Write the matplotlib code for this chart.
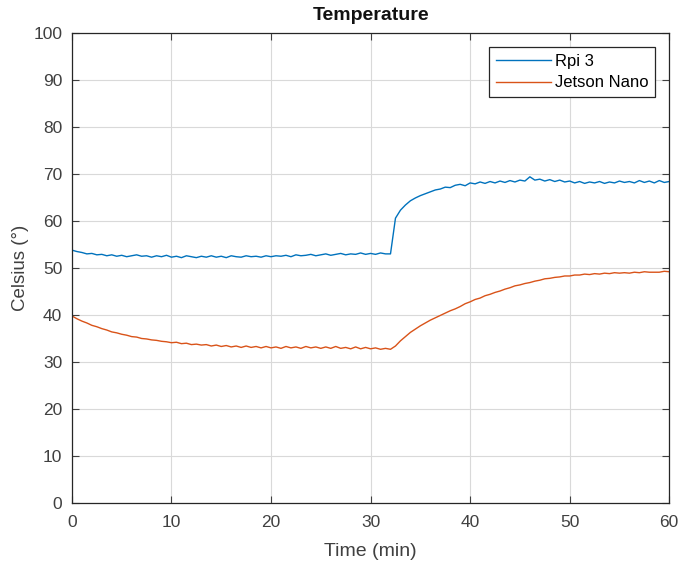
import numpy as np
import matplotlib.pyplot as plt

# ==========================================================
# Data (0.5 min sampling)
# ==========================================================

time_min = np.arange(0, 60.5, 0.5)

rpi3 = [
    53.8, 53.5, 53.3, 53.0, 53.1, 52.8, 52.9, 52.6, 52.8, 52.5,
    52.7, 52.4, 52.6, 52.8, 52.5, 52.6, 52.3, 52.6, 52.4, 52.7,
    52.3, 52.5, 52.2, 52.6, 52.4, 52.2, 52.5, 52.3, 52.6, 52.3,
    52.5, 52.2, 52.6, 52.4, 52.3, 52.6, 52.4, 52.5, 52.3, 52.6,
    52.4, 52.6, 52.5, 52.7, 52.4, 52.8, 52.6, 52.7, 52.9, 52.6,
    52.8, 53.0, 52.7, 52.9, 53.1, 52.8, 53.0, 52.9, 53.2, 52.9,
    53.1, 52.9, 53.2, 53.0, 53.0, 60.6, 62.3, 63.4, 64.3, 64.9,
    65.4, 65.8, 66.2, 66.6, 66.8, 67.2, 67.1, 67.6, 67.8, 67.5,
    68.1, 67.9, 68.3, 68.0, 68.4, 68.1, 68.5, 68.2, 68.6, 68.3,
    68.7, 68.5, 69.4, 68.7, 68.9, 68.5, 68.8, 68.4, 68.7, 68.3,
    68.5, 68.1, 68.4, 68.0, 68.3, 68.1, 68.4, 68.0, 68.3, 68.1,
    68.5, 68.2, 68.4, 68.1, 68.6, 68.2, 68.5, 68.1, 68.6, 68.2,
    68.4,
]

jetson_nano = [
    39.8, 39.2, 38.7, 38.3, 37.8, 37.5, 37.1, 36.8, 36.4, 36.2,
    35.9, 35.7, 35.4, 35.3, 35.0, 34.9, 34.7, 34.6, 34.4, 34.3,
    34.1, 34.2, 33.9, 34.0, 33.7, 33.8, 33.6, 33.7, 33.4, 33.6,
    33.3, 33.5, 33.2, 33.4, 33.1, 33.4, 33.1, 33.3, 33.0, 33.3,
    33.0, 33.2, 32.9, 33.3, 33.0, 33.2, 32.9, 33.3, 33.0, 33.2,
    32.9, 33.2, 32.9, 33.3, 32.9, 33.1, 32.8, 33.2, 32.8, 33.1,
    32.8, 33.0, 32.7, 32.9, 32.7, 33.4, 34.5, 35.4, 36.3, 37.0,
    37.7, 38.3, 38.9, 39.4, 39.9, 40.4, 40.9, 41.3, 41.8, 42.4,
    42.8, 43.3, 43.6, 44.1, 44.4, 44.8, 45.1, 45.5, 45.8, 46.2,
    46.4, 46.7, 46.9, 47.2, 47.4, 47.7, 47.8, 48.0, 48.1, 48.3,
    48.3, 48.5, 48.5, 48.7, 48.6, 48.8, 48.7, 48.9, 48.8, 49.0,
    48.9, 49.0, 48.9, 49.1, 49.0, 49.2, 49.1, 49.1, 49.1, 49.3,
    49.2,
]

x_ticks = [0, 10, 20, 30, 40, 50, 60]
y_ticks = [0, 10, 20, 30, 40, 50, 60, 70, 80, 90, 100]

# ==========================================================
# Figure
# ==========================================================

plt.rcParams["font.family"] = ["Liberation Sans", "DejaVu Sans"]

fig = plt.figure(figsize=(6.85, 5.63), dpi=100)
ax = fig.add_axes([0.105, 0.1066, 0.872, 0.8348])

ax.plot(time_min, rpi3, color="#0072BD", linewidth=1.0, label="Rpi 3")
ax.plot(time_min, jetson_nano, color="#D95319", linewidth=1.0, label="Jetson Nano")

ax.set_xlim(0, 60)
ax.set_ylim(0, 100)
ax.set_xticks(x_ticks)
ax.set_yticks(y_ticks)

ax.tick_params(
    direction="in",
    length=5,
    width=0.8,
    top=True,
    right=True,
    labelsize=12.5,
    colors="#404040",
)
ax.tick_params(axis="x", pad=9)
ax.tick_params(axis="y", pad=7)

for spine in ax.spines.values():
    spine.set_color("#262626")
    spine.set_linewidth(0.9)

ax.grid(True, color="#d9d9d9", linewidth=0.8)
ax.set_axisbelow(True)

ax.set_title("Temperature", fontsize=14, fontweight="bold", color="#111111", pad=9)
ax.set_xlabel("Time (min)", fontsize=14, color="#404040", labelpad=9)
ax.set_ylabel("Celsius (°)", fontsize=13.5, color="#404040", labelpad=3)

leg = ax.legend(
    loc="upper right",
    fontsize=12,
    fancybox=False,
    edgecolor="#262626",
    framealpha=1,
    handlelength=3.3,
    handletextpad=0.25,
    borderpad=0.4,
    borderaxespad=0.85,
    labelspacing=0.4,
)
leg.get_frame().set_linewidth(0.9)

fig.savefig("out.png", dpi=100)
